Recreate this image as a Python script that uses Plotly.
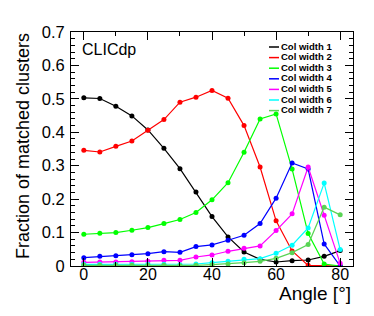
import plotly.graph_objects as go

angles = [0, 5, 10, 15, 20, 25, 30, 35, 40, 45, 50, 55, 60, 65, 70, 75, 80]

col_width_1 = [0.503, 0.501, 0.478, 0.449, 0.407, 0.352, 0.291, 0.221, 0.148, 0.087, 0.042, 0.020, 0.012, 0.016, 0.018, 0.029, 0.046]
col_width_2 = [0.346, 0.341, 0.358, 0.374, 0.406, 0.438, 0.490, 0.505, 0.525, 0.502, 0.420, 0.296, 0.135, 0.045, 0.002, 0.001, 0.000]
col_width_3 = [0.095, 0.098, 0.100, 0.107, 0.115, 0.127, 0.139, 0.160, 0.198, 0.249, 0.340, 0.440, 0.455, 0.290, 0.097, 0.006, 0.000]
col_width_4 = [0.025, 0.029, 0.031, 0.034, 0.037, 0.043, 0.041, 0.058, 0.063, 0.077, 0.092, 0.127, 0.203, 0.308, 0.290, 0.066, 0.000]
col_width_5 = [0.011, 0.012, 0.012, 0.013, 0.014, 0.017, 0.017, 0.027, 0.033, 0.044, 0.053, 0.060, 0.106, 0.156, 0.296, 0.152, 0.008]
col_width_6 = [0.005, 0.005, 0.005, 0.005, 0.005, 0.005, 0.004, 0.006, 0.010, 0.014, 0.020, 0.022, 0.038, 0.062, 0.114, 0.248, 0.049]
col_width_7 = [0.002, 0.002, 0.002, 0.002, 0.002, 0.002, 0.001, 0.002, 0.004, 0.006, 0.010, 0.014, 0.023, 0.040, 0.064, 0.176, 0.153]

series_names = ["Col width 1", "Col width 2", "Col width 3", "Col width 4",
                "Col width 5", "Col width 6", "Col width 7"]
series_values = [col_width_1, col_width_2, col_width_3, col_width_4,
                 col_width_5, col_width_6, col_width_7]
series_colors = ["#000000", "#ff0000", "#00ff00", "#0000ff",
                 "#ff00ff", "#00ffff", "#59d454"]

x_ticks = [0, 20, 40, 60, 80]
y_ticks = [0, 0.1, 0.2, 0.3, 0.4, 0.5, 0.6, 0.7]
y_tick_text = ["0", "0.1", "0.2", "0.3", "0.4", "0.5", "0.6", "0.7"]

FONT = "Liberation Sans, Arial, Helvetica, sans-serif"

fig = go.Figure()
for name, vals, col in zip(series_names, series_values, series_colors):
    fig.add_trace(go.Scatter(
        x=angles, y=vals, name=name, mode="lines+markers",
        line=dict(color=col, width=1.2),
        marker=dict(color=col, size=5, symbol="circle"),
        showlegend=False,
    ))

# plot area in pixels: x 63..345, y 24..258
L, R, T, B = 63, 29, 24, 58
W, H = 374, 316
pw, ph = W - L - R, H - T - B

def px_x(p):
    return (p - L) / pw

def px_y(p):
    return (H - B - p) / ph

annotations = []
shapes = []
# manual legend
row0 = 38.0
dy = 10.6
for i, (name, col) in enumerate(zip(series_names, series_colors)):
    yc = row0 + i * dy
    annotations.append(dict(
        x=px_x(272), y=px_y(yc), xref="paper", yref="paper",
        text="<b>%s</b>" % name, showarrow=False,
        xanchor="left", yanchor="middle", borderpad=0,
        font=dict(family=FONT, size=9.5, color="black"),
    ))
    shapes.append(dict(
        type="line", xref="paper", yref="paper",
        x0=px_x(261), x1=px_x(271), y0=px_y(yc + 1), y1=px_y(yc + 1),
        line=dict(color=col, width=1.5),
    ))

annotations.append(dict(
    x=px_x(72), y=px_y(42), xref="paper", yref="paper",
    text="CLICdp", showarrow=False, xanchor="left", yanchor="middle",
    font=dict(family=FONT, size=16, color="black"),
))
annotations.append(dict(
    x=px_x(15), y=px_y(23), xref="paper", yref="paper",
    text="Fraction of matched clusters", showarrow=False, textangle=-90,
    xanchor="center", yanchor="top",
    font=dict(family=FONT, size=18, color="black"),
))
annotations.append(dict(
    x=px_x(345), y=px_y(285), xref="paper", yref="paper",
    text="Angle [°]", showarrow=False, xanchor="right", yanchor="middle",
    font=dict(family=FONT, size=19, color="black"),
))

fig.update_layout(
    width=W, height=H,
    margin=dict(l=L, r=R, t=T, b=B),
    paper_bgcolor="white", plot_bgcolor="white",
    font=dict(family=FONT, size=16, color="black"),
    showlegend=False,
    annotations=annotations,
    shapes=shapes,
)
fig.update_xaxes(
    range=[-4, 84], tickvals=x_ticks, ticks="inside", ticklen=8,
    tickwidth=1, tickcolor="black", showline=True, linecolor="black",
    linewidth=1, mirror="allticks", showgrid=False, zeroline=False,
    tickfont=dict(family=FONT, size=16), ticklabelstandoff=-6,
    minor=dict(dtick=10, tick0=0, ticks="inside", ticklen=4,
               tickcolor="black", showgrid=False),
)
fig.update_yaxes(
    range=[0, 0.7], tickvals=y_ticks, ticktext=y_tick_text, ticks="inside",
    ticklen=8, tickwidth=1, tickcolor="black", showline=True,
    linecolor="black", linewidth=1, mirror="allticks", showgrid=False,
    zeroline=False, tickfont=dict(family=FONT, size=16.5),
    ticklabelstandoff=2,
    minor=dict(dtick=0.02, tick0=0, ticks="inside", ticklen=4,
               tickcolor="black", showgrid=False),
)

fig.write_html("out.html")
